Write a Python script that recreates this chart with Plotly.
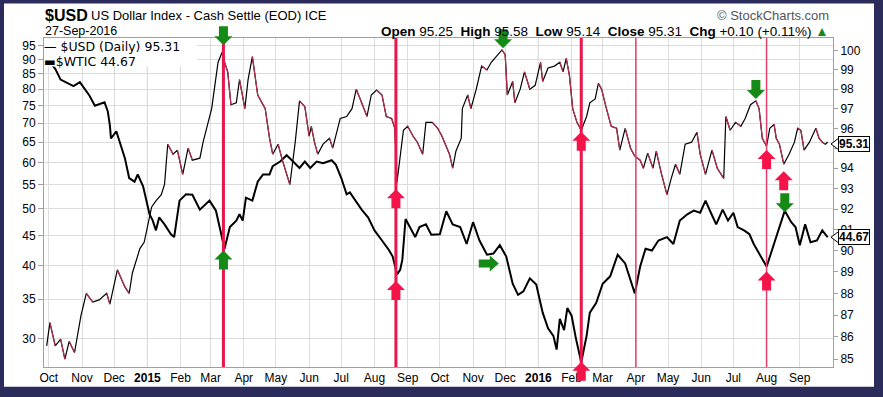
import math
import plotly.graph_objects as go

# ---------------- data ----------------
wti_dates = [
    "2014-09-29", "2014-10-02", "2014-10-07", "2014-10-12", "2014-10-24", "2014-10-30",
    "2014-11-08", "2014-11-13", "2014-11-22", "2014-11-25", "2014-11-27", "2014-11-28",
    "2014-12-03", "2014-12-11", "2014-12-15", "2014-12-20", "2014-12-23", "2014-12-28",
    "2015-01-03", "2015-01-06", "2015-01-09", "2015-01-12", "2015-01-17", "2015-01-23",
    "2015-01-26", "2015-01-31", "2015-02-06", "2015-02-12", "2015-02-19", "2015-02-28",
    "2015-03-06", "2015-03-11", "2015-03-14", "2015-03-19", "2015-03-25", "2015-03-28",
    "2015-03-31", "2015-04-03", "2015-04-09", "2015-04-14", "2015-04-19", "2015-04-25",
    "2015-04-28", "2015-05-05", "2015-05-11", "2015-05-17", "2015-05-23", "2015-05-28",
    "2015-06-02", "2015-06-08", "2015-06-14", "2015-06-22", "2015-06-26", "2015-07-01",
    "2015-07-06", "2015-07-09", "2015-07-14", "2015-07-20", "2015-07-26", "2015-08-01",
    "2015-08-08", "2015-08-14", "2015-08-18", "2015-08-22", "2015-08-25", "2015-08-27",
    "2015-08-30", "2015-09-03", "2015-09-08", "2015-09-12", "2015-09-18", "2015-09-23",
    "2015-10-01", "2015-10-07", "2015-10-13", "2015-10-20", "2015-10-26", "2015-11-01",
    "2015-11-07", "2015-11-14", "2015-11-20", "2015-11-26", "2015-12-02", "2015-12-08",
    "2015-12-13", "2015-12-18", "2015-12-24", "2015-12-30", "2016-01-05", "2016-01-10",
    "2016-01-15", "2016-01-18", "2016-01-21", "2016-01-25", "2016-01-28", "2016-02-01",
    "2016-02-05", "2016-02-10", "2016-02-15", "2016-02-18", "2016-02-24", "2016-03-01",
    "2016-03-08", "2016-03-15", "2016-03-22", "2016-03-31", "2016-04-05", "2016-04-10",
    "2016-04-16", "2016-04-22", "2016-04-30", "2016-05-06", "2016-05-12", "2016-05-19",
    "2016-05-25", "2016-05-31", "2016-06-05", "2016-06-10", "2016-06-15", "2016-06-21",
    "2016-06-26", "2016-07-01", "2016-07-05", "2016-07-11", "2016-07-16", "2016-07-20",
    "2016-07-27", "2016-08-01", "2016-08-05", "2016-08-10", "2016-08-14", "2016-08-18",
    "2016-08-24", "2016-08-28", "2016-09-01", "2016-09-06", "2016-09-11", "2016-09-17",
    "2016-09-22", "2016-09-25", "2016-09-27",
]
wti_values = [
    91.0, 89.0, 86.7, 83.1, 81.0, 82.3,
    78.0, 75.0, 76.0, 73.4, 69.4, 65.9,
    67.8, 61.0, 56.4, 55.6, 57.2, 54.6,
    48.9, 47.7, 45.9, 48.3, 47.0, 45.2,
    44.7, 51.6, 52.9, 52.8, 49.8, 51.6,
    49.6, 45.2, 42.7, 46.5, 47.7, 48.9,
    47.7, 52.2, 51.6, 55.6, 57.2, 57.2,
    59.1, 60.2, 61.7, 60.2, 58.7, 60.2,
    58.7, 60.2, 59.8, 60.5, 59.4, 56.4,
    52.9, 53.3, 51.6, 49.8, 48.3, 45.9,
    44.1, 42.6, 41.4, 38.6, 39.3, 40.9,
    48.0, 46.5, 44.7, 46.5, 47.0, 45.1,
    45.2, 49.5, 47.0, 46.5, 43.5, 47.4,
    44.1, 41.7, 41.9, 43.3, 41.4, 37.2,
    35.6, 36.1, 38.0, 37.1, 33.2, 31.2,
    30.3, 28.7, 32.4, 31.0, 33.8, 32.8,
    30.0, 27.3, 30.3, 33.2, 34.5, 37.2,
    38.3, 41.7, 40.3, 35.8, 39.8, 42.7,
    42.4, 44.1, 44.7, 43.5, 47.7, 48.9,
    49.6, 49.2, 51.6, 49.2, 47.0, 49.8,
    47.7, 49.2, 46.5, 45.9, 45.2, 43.5,
    41.4, 39.8, 41.9, 44.7, 47.0, 49.6,
    47.4, 46.5, 43.3, 47.0, 43.8, 44.1,
    45.9, 45.1, 44.67,
]

usd_dates = [
    "2014-09-29", "2014-10-02", "2014-10-07", "2014-10-12", "2014-10-16", "2014-10-20",
    "2014-10-25", "2014-10-31", "2014-11-05", "2014-11-11", "2014-11-17", "2014-11-24",
    "2014-11-27", "2014-12-04", "2014-12-11", "2014-12-15", "2014-12-18", "2014-12-25",
    "2014-12-29", "2015-01-05", "2015-01-09", "2015-01-14", "2015-01-17", "2015-01-20",
    "2015-01-25", "2015-01-29", "2015-02-03", "2015-02-08", "2015-02-12", "2015-02-19",
    "2015-02-22", "2015-02-26", "2015-03-02", "2015-03-05", "2015-03-08", "2015-03-12",
    "2015-03-14", "2015-03-17", "2015-03-20", "2015-03-25", "2015-03-28", "2015-04-02",
    "2015-04-05", "2015-04-09", "2015-04-14", "2015-04-21", "2015-04-25", "2015-04-28",
    "2015-05-03", "2015-05-07", "2015-05-11", "2015-05-14", "2015-05-19", "2015-05-23",
    "2015-05-28", "2015-06-01", "2015-06-03", "2015-06-06", "2015-06-09", "2015-06-14",
    "2015-06-20", "2015-06-23", "2015-06-30", "2015-07-06", "2015-07-11", "2015-07-15",
    "2015-07-20", "2015-07-25", "2015-07-29", "2015-08-03", "2015-08-08", "2015-08-12",
    "2015-08-17", "2015-08-20", "2015-08-22", "2015-08-25", "2015-08-28", "2015-09-01",
    "2015-09-06", "2015-09-10", "2015-09-15", "2015-09-18", "2015-09-24", "2015-09-29",
    "2015-10-03", "2015-10-10", "2015-10-13", "2015-10-16", "2015-10-21", "2015-10-22",
    "2015-10-27", "2015-10-30", "2015-11-04", "2015-11-09", "2015-11-14", "2015-11-18",
    "2015-11-23", "2015-11-28", "2015-12-01", "2015-12-03", "2015-12-08", "2015-12-10",
    "2015-12-15", "2015-12-19", "2015-12-24", "2015-12-29", "2016-01-03", "2016-01-05",
    "2016-01-10", "2016-01-16", "2016-01-21", "2016-01-24", "2016-01-27", "2016-01-30",
    "2016-02-02", "2016-02-06", "2016-02-10", "2016-02-15", "2016-02-18", "2016-02-23",
    "2016-02-26", "2016-02-29", "2016-03-04", "2016-03-09", "2016-03-14", "2016-03-17",
    "2016-03-22", "2016-03-27", "2016-03-31", "2016-04-05", "2016-04-08", "2016-04-12",
    "2016-04-17", "2016-04-20", "2016-04-25", "2016-04-30", "2016-05-04", "2016-05-08",
    "2016-05-12", "2016-05-17", "2016-05-23", "2016-05-28", "2016-05-31", "2016-06-05",
    "2016-06-11", "2016-06-16", "2016-06-22", "2016-06-24", "2016-06-28", "2016-07-03",
    "2016-07-08", "2016-07-12", "2016-07-17", "2016-07-22", "2016-07-25", "2016-07-28",
    "2016-08-01", "2016-08-04", "2016-08-08", "2016-08-10", "2016-08-13", "2016-08-17",
    "2016-08-22", "2016-08-27", "2016-08-30", "2016-09-02", "2016-09-05", "2016-09-10",
    "2016-09-16", "2016-09-19", "2016-09-22", "2016-09-25", "2016-09-27",
]
usd_values = [
    85.6, 86.65, 85.6, 85.9, 85.0, 85.8,
    85.3, 86.97, 88.0, 87.6, 87.7, 88.0,
    87.5, 89.1, 88.3, 88.0, 88.95, 90.1,
    90.4, 92.1, 92.4, 92.7, 93.2, 95.2,
    94.7, 94.9, 93.7, 95.0, 94.4, 94.5,
    95.3, 96.1, 97.0, 98.2, 99.4, 99.95,
    99.4, 98.9, 97.2, 97.3, 98.5, 97.0,
    98.5, 99.7, 97.7, 97.0, 95.5, 94.7,
    95.2, 94.4, 93.7, 93.2, 95.3, 97.4,
    97.1, 95.6, 96.1, 95.3, 94.7, 95.2,
    95.5, 95.0, 96.5, 96.6, 97.0, 98.0,
    97.3, 96.6, 97.7, 97.95, 97.7, 96.6,
    96.5, 96.0, 93.3, 94.7, 95.9, 96.1,
    95.6, 95.3, 94.7, 96.3, 96.3, 96.0,
    95.6, 94.7, 94.0, 94.85, 95.5, 97.0,
    97.7, 97.0, 98.0, 99.2, 99.0, 99.4,
    99.7, 100.05, 99.8, 97.7, 98.4, 97.3,
    98.0, 98.9, 98.0, 98.2, 99.4, 98.4,
    99.1, 99.2, 99.4, 98.9, 99.6, 98.7,
    97.0, 96.3, 95.9, 96.6, 97.3, 97.5,
    98.3, 98.0, 97.1, 96.1, 96.0, 94.9,
    96.0, 95.0, 94.6, 94.4, 94.0, 94.75,
    94.0, 94.85, 93.7, 92.7, 93.5, 94.2,
    93.7, 95.2, 95.3, 95.8, 94.7, 93.7,
    94.9, 94.0, 93.5, 96.6, 95.9, 96.3,
    96.1, 96.5, 97.2, 97.4, 97.0, 95.5,
    95.1, 96.0, 96.2, 95.5, 95.2, 94.2,
    94.7, 95.3, 96.0, 95.9, 94.9, 95.3,
    96.0, 95.5, 95.3, 95.2, 95.31,
]

usd_last = 95.31
wti_last = 44.67
quote_open, quote_high, quote_low, quote_close = 95.25, 95.58, 95.14, 95.31
quote_chg, quote_chg_pct = "+0.10", "+0.11%"
chart_date = "27-Sep-2016"

wti_ticks = [30, 35, 40, 45, 50, 55, 60, 65, 70, 75, 80, 85, 90, 95]
usd_ticks = [85, 86, 87, 88, 89, 90, 91, 92, 93, 94, 95, 96, 97, 98, 99, 100]
month_ticks = [
    "2014-10-01", "2014-11-01", "2014-12-01", "2015-01-01", "2015-02-01", "2015-03-01",
    "2015-04-01", "2015-05-01", "2015-06-01", "2015-07-01", "2015-08-01", "2015-09-01",
    "2015-10-01", "2015-11-01", "2015-12-01", "2016-01-01", "2016-02-01", "2016-03-01",
    "2016-04-01", "2016-05-01", "2016-06-01", "2016-07-01", "2016-08-01", "2016-09-01",
]
month_labels = [
    "Oct", "Nov", "Dec", "<b>2015</b>", "Feb", "Mar", "Apr", "May", "Jun", "Jul", "Aug", "Sep",
    "Oct", "Nov", "Dec", "<b>2016</b>", "Feb", "Mar", "Apr", "May", "Jun", "Jul", "Aug", "Sep",
]
year_starts = ["2015-01-01", "2016-01-01"]

major_events = ["2015-03-13", "2015-08-21", "2016-02-10"]
minor_events = ["2016-04-01", "2016-08-01"]

green_down_usd = [("2015-03-13", 100.3), ("2015-11-29", 100.14), ("2016-07-22", 97.49)]
green_down_wti = [("2016-08-18", 49.3)]
green_up_wti = [("2015-03-13", 42.4)]
green_right_wti = [("2015-11-25", 40.3)]
red_up_usd = [("2015-08-21", 92.96), ("2016-02-10", 95.82), ("2016-08-01", 94.91), ("2016-08-17", 93.85)]
red_up_wti = [("2015-08-21", 37.6), ("2016-02-10", 27.37), ("2016-08-01", 39.05)]

# ---------------- layout constants ----------------
W, H = 883, 397
ML, MR, MT, MB = 44, 50, 38, 25
PW, PH = W - ML - MR, H - MT - MB
FONT = "Liberation Sans, Arial, sans-serif"
LEGEND_FONT = "DejaVu Sans, Verdana, sans-serif"
WTI_RANGE = [math.log10(26.8), math.log10(97.9)]
USD_RANGE = [math.log10(84.65), math.log10(100.68)]
GREEN = "#168a16"
RED = "#f4144a"
USD_DOWN = "#b8304f"


def px_x(px):
    return (px - ML) / PW


def px_y(py):
    return (H - MB - py) / PH


def frac(v, rng):
    return (math.log10(v) - rng[0]) / (rng[1] - rng[0])


# USD line: black base, falling stretches in red
red_x, red_y = [], []
for i in range(len(usd_values) - 1):
    if usd_values[i + 1] < usd_values[i]:
        red_x += [usd_dates[i], usd_dates[i + 1], None]
        red_y += [usd_values[i], usd_values[i + 1], None]

fig = go.Figure()
fig.add_trace(go.Scatter(x=wti_dates, y=wti_values, mode="lines", name="$WTIC",
                         line=dict(color="black", width=2), yaxis="y"))
fig.add_trace(go.Scatter(x=usd_dates, y=usd_values, mode="lines", name="$USD (Daily)",
                         line=dict(color="black", width=1.2), yaxis="y2"))
fig.add_trace(go.Scatter(x=red_x, y=red_y, mode="lines", showlegend=False,
                         line=dict(color=USD_DOWN, width=1.2), yaxis="y2",
                         connectgaps=False))

shapes = []
# white card on navy frame
shapes.append(dict(type="rect", xref="paper", yref="paper", layer="below",
                   x0=px_x(4), x1=px_x(874), y0=px_y(392), y1=px_y(3),
                   fillcolor="white", line=dict(width=0)))
# darker year grid lines
for d in year_starts:
    shapes.append(dict(type="line", xref="x", yref="paper", x0=d, x1=d, y0=0, y1=1,
                       layer="below", line=dict(color="#a9a9a9", width=1)))
# event lines
for d in major_events:
    shapes.append(dict(type="line", xref="x", yref="paper", x0=d, x1=d, y0=0, y1=1,
                       layer="above", line=dict(color="#e8164b", width=3)))
for d in minor_events:
    shapes.append(dict(type="line", xref="x", yref="paper", x0=d, x1=d, y0=0, y1=1,
                       layer="above", line=dict(color="#e0406c", width=1.5)))
# legend box
shapes.append(dict(type="rect", xref="paper", yref="paper", layer="above",
                   x0=px_x(44.5), x1=px_x(197), y0=px_y(67), y1=px_y(38.5),
                   fillcolor="white", line=dict(width=0)))

UP = "M0,0 L9,-9 L4.5,-9 L4.5,-19 L-4.5,-19 L-4.5,-9 L-9,-9 Z"
DOWN = "M0,0 L9,9 L4.5,9 L4.5,19 L-4.5,19 L-4.5,9 L-9,9 Z"
RIGHT = "M0,0 L-9,8 L-9,4 L-20,4 L-20,-4 L-9,-4 L-9,-8 Z"


def arrow(date, value, rng, path, color):
    return dict(type="path", xref="x", yref="paper", xsizemode="pixel", ysizemode="pixel",
                xanchor=date, yanchor=frac(value, rng), path=path, layer="above",
                fillcolor=color, line=dict(width=0))


for d, v in green_down_usd:
    shapes.append(arrow(d, v, USD_RANGE, DOWN, GREEN))
for d, v in green_down_wti:
    shapes.append(arrow(d, v, WTI_RANGE, DOWN, GREEN))
for d, v in green_up_wti:
    shapes.append(arrow(d, v, WTI_RANGE, UP, GREEN))
for d, v in green_right_wti:
    shapes.append(arrow(d, v, WTI_RANGE, RIGHT, GREEN))
for d, v in red_up_usd:
    shapes.append(arrow(d, v, USD_RANGE, UP, RED))
for d, v in red_up_wti:
    shapes.append(arrow(d, v, WTI_RANGE, UP, RED))

# notches of the last-value labels
shapes.append(dict(type="path", xref="paper", yref="paper", xsizemode="pixel", ysizemode="pixel",
                   xanchor=1, yanchor=frac(usd_last, USD_RANGE),
                   path="M-2,-2 L6,4 L6,-8 Z", fillcolor="white",
                   line=dict(color="black", width=1), layer="above"))
shapes.append(dict(type="path", xref="paper", yref="paper", xsizemode="pixel", ysizemode="pixel",
                   xanchor=1, yanchor=frac(wti_last, WTI_RANGE),
                   path="M-2,0 L6,6 L6,-6 Z", fillcolor="white",
                   line=dict(color="black", width=1), layer="above"))

ann = []
ann.append(dict(xref="paper", yref="paper", x=px_x(43), y=px_y(15), xanchor="left", yanchor="middle",
                text="<b>$USD</b>", showarrow=False, font=dict(size=16, color="black", family=FONT)))
ann.append(dict(xref="paper", yref="paper", x=px_x(89), y=px_y(15.5), xanchor="left", yanchor="middle",
                text="US Dollar Index - Cash Settle (EOD) ICE", showarrow=False,
                font=dict(size=13, color="black", family=FONT)))
ann.append(dict(xref="paper", yref="paper", x=px_x(43), y=px_y(31), xanchor="left", yanchor="middle",
                text=chart_date, showarrow=False, font=dict(size=12.5, color="black", family=FONT)))
ann.append(dict(xref="paper", yref="paper", x=px_x(831), y=px_y(15), xanchor="right", yanchor="middle",
                text="© StockCharts.com", showarrow=False, font=dict(size=13, color="#555555", family=FONT)))
quote_text = (f"<b>Open</b> {quote_open:.2f}  <b>High</b> {quote_high:.2f}  <b>Low</b> {quote_low:.2f}  "
              f"<b>Close</b> {quote_close:.2f}  <b>Chg</b> {quote_chg} ({quote_chg_pct}) "
              f"<span style='color:{GREEN}'>▲</span>")
ann.append(dict(xref="paper", yref="paper", x=px_x(831), y=px_y(31), xanchor="right", yanchor="middle",
                text=quote_text, showarrow=False, font=dict(size=13.5, color="black", family=FONT)))
# legend (drawn as text)
ann.append(dict(xref="paper", yref="paper", x=px_x(43), y=px_y(47), xanchor="left", yanchor="middle",
                text=f"— $USD (Daily) {usd_last:.2f}", showarrow=False, borderpad=0,
                font=dict(size=12.5, color="black", family=LEGEND_FONT)))
ann.append(dict(xref="paper", yref="paper", x=px_x(43), y=px_y(61.5), xanchor="left", yanchor="middle",
                text=f"▬$WTIC {wti_last:.2f}", showarrow=False, borderpad=0,
                font=dict(size=12.5, color="black", family=LEGEND_FONT)))
# last value labels
ann.append(dict(xref="paper", yref="y2", x=1, y=math.log10(usd_last), xanchor="left", yanchor="middle",
                xshift=5, yshift=-2, text=f"<b>{usd_last:.2f}</b>", showarrow=False,
                bgcolor="white", bordercolor="black", borderwidth=1, borderpad=0,
                font=dict(size=12, color="black", family=FONT)))
ann.append(dict(xref="paper", yref="y", x=1, y=math.log10(wti_last), xanchor="left", yanchor="middle",
                xshift=5, yshift=0, text=f"<b>{wti_last:.2f}</b>", showarrow=False,
                bgcolor="white", bordercolor="black", borderwidth=1, borderpad=0,
                font=dict(size=12, color="black", family=FONT)))

fig.update_layout(
    width=W, height=H,
    margin=dict(l=ML, r=MR, t=MT, b=MB, pad=0),
    paper_bgcolor="#2b2b5c",
    plot_bgcolor="white",
    showlegend=False,
    font=dict(family=FONT, size=12, color="black"),
    shapes=shapes,
    annotations=ann,
    xaxis=dict(type="date", range=["2014-09-26 12:00", "2016-10-02"],
               tickvals=month_ticks, ticktext=month_labels, tickangle=0,
               showgrid=True, gridcolor="#dcdcdc", gridwidth=1,
               showline=True, mirror=True, linecolor="#a0a0a0", linewidth=1,
               ticks="", zeroline=False, tickfont=dict(size=12, color="black")),
    yaxis=dict(type="log", range=WTI_RANGE, tickvals=wti_ticks,
               ticktext=[str(t) for t in wti_ticks],
               showgrid=True, gridcolor="#dcdcdc", gridwidth=1,
               showline=True, mirror=True, linecolor="#a0a0a0", linewidth=1,
               ticks="outside", ticklen=5, tickcolor="#a0a0a0", zeroline=False,
               tickfont=dict(size=12, color="black")),
    yaxis2=dict(type="log", range=USD_RANGE, overlaying="y", side="right",
                tickvals=usd_ticks, ticktext=[str(t) for t in usd_ticks],
                showgrid=False, showline=True, linecolor="#a0a0a0", linewidth=1,
                ticks="outside", ticklen=4, tickcolor="#a0a0a0", zeroline=False,
                tickfont=dict(size=12, color="black")),
)

fig.write_html("out.html", config={"displayModeBar": False},
               post_script="document.body.style.margin='0';document.body.style.overflow='hidden';")
